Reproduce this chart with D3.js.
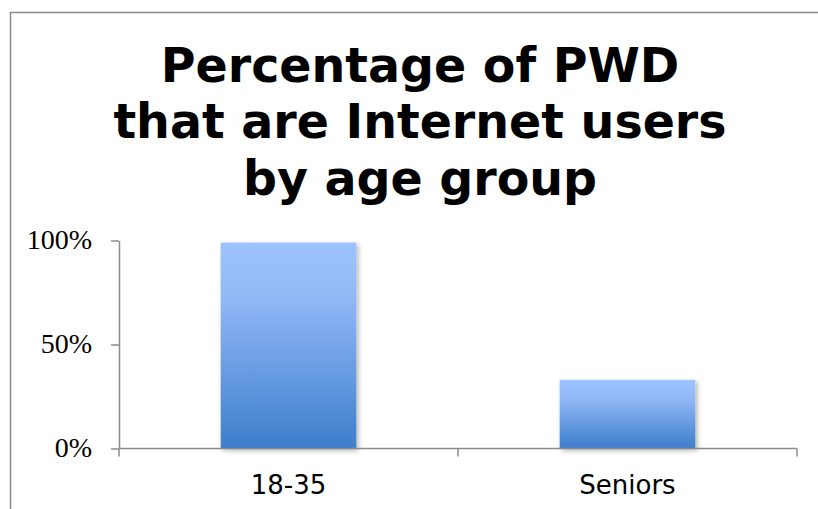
<!DOCTYPE html>
<html>
<head>
<meta charset="utf-8">
<script src="https://cdn.jsdelivr.net/npm/d3@7/dist/d3.min.js"></script>
<style>
  html, body { margin: 0; padding: 0; background: #fff; }
  svg { display: block; }
</style>
</head>
<body>
<svg id="chart" width="818" height="509"></svg>
<script>
const titleLines = ["Percentage of PWD", "that are Internet users", "by age group"];
const categories = ["18-35", "Seniors"];
const values = [0.99, 0.33];
const yTicks = [0, 0.5, 1];
const yTickLabels = ["0%", "50%", "100%"];

const svg = d3.select("#chart");
const W = 818, H = 509;
const plot = { left: 119, right: 797, top: 240.5, bottom: 448.5 };

// outer border (left and top visible)
svg.append("path")
  .attr("d", `M10.5,${H} V12.5 H${W}`)
  .attr("fill", "none").attr("stroke", "#8a8a8a").attr("stroke-width", 1.5);

const defs = svg.append("defs");
const grad = defs.append("linearGradient").attr("id", "barGrad")
  .attr("x1", 0).attr("y1", 0).attr("x2", 0).attr("y2", 1);
grad.append("stop").attr("offset", "0%").attr("stop-color", "#9cc2ff");
grad.append("stop").attr("offset", "25%").attr("stop-color", "#93b9f7");
grad.append("stop").attr("offset", "100%").attr("stop-color", "#3d7ecc");
const filt = defs.append("filter").attr("id", "shadow")
  .attr("x", "-10%").attr("y", "-10%").attr("width", "130%").attr("height", "130%");
filt.append("feDropShadow").attr("dx", 2).attr("dy", 2).attr("stdDeviation", 2.5)
  .attr("flood-color", "#000").attr("flood-opacity", 0.3);

// title
const title = svg.append("text")
  .attr("text-anchor", "middle")
  .attr("font-family", "'DejaVu Sans', Verdana, sans-serif")
  .attr("font-weight", "bold").attr("font-size", 47.5).attr("fill", "#000");
titleLines.forEach((t, i) => {
  title.append("tspan").attr("x", 420).attr("y", 81.5 + i * 56.7).text(t);
});

const x = d3.scaleBand().domain(categories)
  .range([plot.left, plot.right]).paddingInner(0.6).paddingOuter(0.3);
const y = d3.scaleLinear().domain([0, 1]).range([plot.bottom, plot.top]);

// bars
svg.append("g").selectAll("rect").data(categories).join("rect")
  .attr("x", d => x(d))
  .attr("y", (d, i) => y(values[i]))
  .attr("width", x.bandwidth())
  .attr("height", (d, i) => y(0) - y(values[i]))
  .attr("fill", "url(#barGrad)")
  .attr("filter", "url(#shadow)");

// y axis
const yAxis = svg.append("g").attr("transform", `translate(${plot.left},0)`)
  .call(d3.axisLeft(y).tickValues(yTicks).tickSize(8).tickSizeOuter(0)
    .tickFormat((d, i) => yTickLabels[i]).tickPadding(19));
yAxis.select(".domain").attr("stroke", "#8a8a8a").attr("stroke-width", 1.5);
yAxis.selectAll(".tick line").attr("stroke", "#8a8a8a").attr("stroke-width", 1.5);
yAxis.selectAll(".tick text")
  .attr("font-family", "'Liberation Serif', 'Times New Roman', serif")
  .attr("font-size", 28).attr("fill", "#000").attr("dy", "0.3em");

// x axis: boundary ticks
const gap = (x.step() - x.bandwidth()) / 2;
const bounds = [x(categories[0]) - gap].concat(categories.map(c => x(c) + x.bandwidth() + gap));
const xg = svg.append("g");
xg.append("line").attr("x1", plot.left).attr("x2", plot.right)
  .attr("y1", y(0)).attr("y2", y(0)).attr("stroke", "#8a8a8a").attr("stroke-width", 1.5);
xg.selectAll("line.tk").data(bounds).join("line").attr("class", "tk")
  .attr("x1", d => d).attr("x2", d => d)
  .attr("y1", y(0)).attr("y2", y(0) + 8)
  .attr("stroke", "#8a8a8a").attr("stroke-width", 1.5);
xg.selectAll("text").data(categories).join("text")
  .attr("x", d => x(d) + x.bandwidth() / 2)
  .attr("y", 494)
  .attr("text-anchor", "middle")
  .attr("font-family", "'DejaVu Sans', Verdana, sans-serif")
  .attr("font-size", 26).attr("fill", "#000")
  .text(d => d);
</script>
</body>
</html>
